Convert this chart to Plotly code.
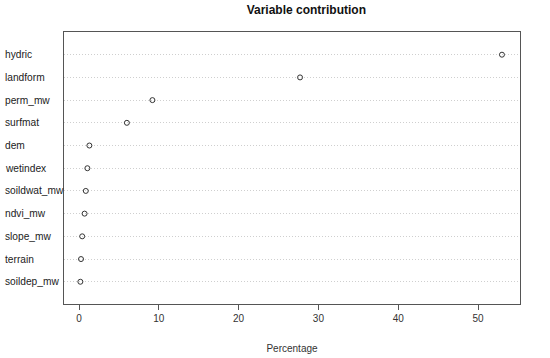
import plotly.graph_objects as go

variables = ["hydric", "landform", "perm_mw", "surfmat", "dem", "wetindex",
             "soildwat_mw", "ndvi_mw", "slope_mw", "terrain", "soildep_mw"]
contribution = [53.0, 27.7, 9.2, 6.0, 1.3, 1.05, 0.85, 0.7, 0.4, 0.25, 0.17]
x_ticks = [0, 10, 20, 30, 40, 50]

n = len(variables)
ypos = [n - i for i in range(n)]

fig = go.Figure()
fig.add_trace(go.Scatter(
    x=contribution, y=ypos, mode="markers",
    marker=dict(symbol="circle-open", size=5, color="#333333", line=dict(width=1, color="#333333")),
    showlegend=False, hoverinfo="x+text", text=variables,
))

for name, yv in zip(variables, ypos):
    fig.add_annotation(x=-0.134, xref="paper", y=yv, yref="y", text=name,
                       showarrow=False, xanchor="left", yanchor="middle",
                       font=dict(family="Liberation Sans, Arial", size=10.2, color="#222222"))

fig.update_layout(
    width=550, height=358,
    margin=dict(l=64, r=30, t=32, b=54),
    paper_bgcolor="white", plot_bgcolor="white",
    title=dict(text="<b>Variable contribution</b>", x=0.557, xanchor="center",
               y=0.985, yanchor="top", yref="container",
               font=dict(family="Liberation Sans, Arial", size=12, color="#111111")),
    font=dict(family="Liberation Sans, Arial", size=10, color="#333333"),
)
fig.update_xaxes(range=[-1.88, 55.26], tickvals=x_ticks, showgrid=False, zeroline=False,
                 showline=True, linecolor="#555555", linewidth=1, mirror=True,
                 ticks="outside", ticklen=5, tickcolor="#555555", automargin=False,
                 title=dict(text="Percentage", standoff=21, font=dict(size=10)))
fig.update_yaxes(range=[0.02, 12.0], tickvals=ypos, showticklabels=False,
                 showgrid=True, gridcolor="#cfcfcf", griddash="1px,2px", gridwidth=1,
                 zeroline=False, showline=True, linecolor="#555555", linewidth=1, mirror=True,
                 ticks="", automargin=False)

fig.write_html("out.html", config={"displayModeBar": False},
               post_script="document.body.style.margin='0';")
